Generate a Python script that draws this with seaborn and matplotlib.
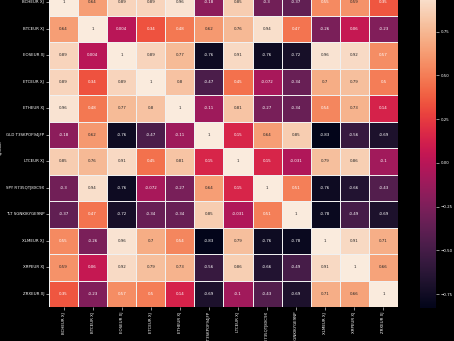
import numpy as np
import pandas as pd
import matplotlib
matplotlib.use("Agg")
import matplotlib.pyplot as plt
import seaborn as sns

symbols = [
    "BCHEUR XJ", "BTCEUR XJ", "EOSEUR XJ", "ETCEUR XJ", "ETHEUR XJ",
    "GLD T3SKPOF94JFP", "LTCEUR XJ", "SPY R735QTJ8XC9X", "TLT SGNKIKYGE9NP",
    "XLMEUR XJ", "XRPEUR XJ", "ZRXEUR XJ",
]

bch = [1, 0.64, 0.89, 0.89, 0.96, -0.18, 0.85, -0.3, -0.37, 0.55, 0.59, 0.35]
btc = [0.64, 1, 0.004, 0.34, 0.48, 0.62, 0.76, 0.94, 0.47, -0.26, 0.06, -0.23]
eos = [0.89, 0.004, 1, 0.89, 0.77, -0.76, 0.91, -0.76, -0.72, 0.96, 0.92, 0.57]
etc = [0.89, 0.34, 0.89, 1, 0.8, -0.47, 0.45, -0.072, -0.34, 0.7, 0.79, 0.5]
eth = [0.96, 0.48, 0.77, 0.8, 1, -0.11, 0.81, -0.27, -0.34, 0.54, 0.73, 0.14]
gld = [-0.18, 0.62, -0.76, -0.47, -0.11, 1, 0.15, 0.64, 0.85, -0.83, -0.56, -0.69]
ltc = [0.85, 0.76, 0.91, 0.45, 0.81, 0.15, 1, 0.15, -0.031, 0.79, 0.86, -0.1]
spy = [-0.3, 0.94, -0.76, -0.072, -0.27, 0.64, 0.15, 1, 0.51, -0.76, -0.66, -0.43]
tlt = [-0.37, 0.47, -0.72, -0.34, -0.34, 0.85, -0.031, 0.51, 1, -0.78, -0.49, -0.69]
xlm = [0.55, -0.26, 0.96, 0.7, 0.54, -0.83, 0.79, -0.76, -0.78, 1, 0.91, 0.71]
xrp = [0.59, 0.06, 0.92, 0.79, 0.73, -0.56, 0.86, -0.66, -0.49, 0.91, 1, 0.66]
zrx = [0.35, -0.23, 0.57, 0.5, 0.14, -0.69, -0.1, -0.43, -0.69, 0.71, 0.66, 1]

corr = pd.DataFrame(
    [bch, btc, eos, etc, eth, gld, ltc, spy, tlt, xlm, xrp, zrx],
    index=pd.Index(symbols, name="symbol"),
    columns=pd.Index(symbols, name="symbol"),
)

plt.rcParams.update({
    "figure.facecolor": "black",
    "axes.facecolor": "black",
    "text.color": "white",
    "axes.labelcolor": "white",
    "xtick.color": "white",
    "ytick.color": "white",
})

FS = 2.9

fig = plt.figure(figsize=(4.54, 3.41), dpi=100)
fig.patch.set_facecolor("black")
ax = fig.add_axes([49 / 454, 34 / 341, 349 / 454, 318 / 341])
cax = fig.add_axes([420 / 454, 33 / 341, 16 / 454, 320 / 341])

sns.heatmap(
    corr, annot=True, ax=ax, cbar_ax=cax,
    linewidths=0.6, linecolor="#f0f0f0",
    annot_kws={"fontsize": FS},
)

ax.tick_params(axis="both", labelsize=FS, length=2, width=0.4, color="white", pad=1.5)
ax.set_xticklabels(symbols, rotation=90, fontsize=FS)
ax.set_yticklabels(symbols, rotation=0, fontsize=FS)
ax.set_ylabel("symbol", fontsize=FS, color="white", labelpad=2)
ax.set_xlabel("")
cax.tick_params(labelsize=FS, length=2, width=0.4, colors="white", pad=1.5)
cax.set_yticks([-0.75, -0.5, -0.25, 0.0, 0.25, 0.5, 0.75])

fig.savefig("out.png", dpi=100, facecolor="black")
